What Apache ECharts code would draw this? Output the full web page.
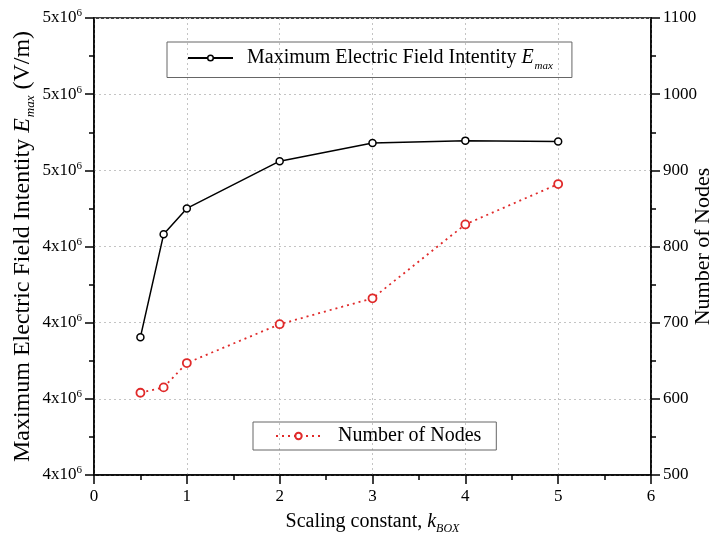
<!DOCTYPE html>
<html>
<head>
<meta charset="utf-8">
<script src="https://cdn.jsdelivr.net/npm/echarts@6/dist/echarts.min.js"></script>
<style>html,body{margin:0;padding:0;background:#fff}#c{width:714px;height:535px}</style>
</head>
<body>
<div id="c"></div>
<script>
// Data
var kBox = [0.5, 0.75, 1, 2, 3, 4, 5];
var eMax = [4.381e6, 4.516e6, 4.550e6, 4.612e6, 4.636e6, 4.639e6, 4.638e6];
var nodes = [608, 615, 647, 698, 732, 829, 882];
// Left axis tick labels (bottom to top), mantissa of "Nx10^6"
var leftTickMantissa = ['4', '4', '4', '4', '5', '5', '5'];
var xTickLabels = ['0', '1', '2', '3', '4', '5', '6'];
var rightTickLabels = ['500', '600', '700', '800', '900', '1000', '1100'];

var FONT = '"Liberation Serif", "Times New Roman", serif';
var chart = echarts.init(document.getElementById('c'), null, {renderer: 'canvas'});

var pairs = function (ys) { return kBox.map(function (x, i) { return [x, ys[i]]; }); };

var tickStyle = {show: true, inside: false, length: 9, lineStyle: {color: '#000', width: 1.5}};
var minorStyle = {show: true, splitNumber: 2, length: 5, lineStyle: {color: '#000', width: 1.5}};
var splitStyle = {show: true, lineStyle: {color: '#c4c4c4', type: [2, 3], width: 1}};

var option = {
  backgroundColor: '#fff',
  animation: false,
  textStyle: {fontFamily: FONT, color: '#000'},
  grid: {left: 94, right: 63, top: 18, bottom: 60, containLabel: false, outerBoundsMode: 'none',
         show: true, borderColor: '#000', borderWidth: 1.5, backgroundColor: 'transparent'},
  legend: [
    {
      data: [{name: 'Emax', itemStyle: {borderWidth: 1.5}}],
      left: 167, top: 42, width: 400,
      padding: [6, 19, 6, 20],
      borderColor: '#666', borderWidth: 1,
      itemWidth: 45, itemHeight: 7, itemGap: 0,
      formatter: function () { return 'Maximum Electric Field Intentity {i|E}{sub|max}'; },
      textStyle: {fontFamily: FONT, fontSize: 20, color: '#000', padding: [0, 0, 0, 9],
        rich: {i: {fontFamily: FONT, fontSize: 20, fontStyle: 'italic'},
               sub: {fontFamily: FONT, fontSize: 11, fontStyle: 'italic', padding: [16, 0, 0, 1]}}}
    },
    {
      data: [{name: 'Nodes'}],
      left: 253, top: 422,
      padding: [4, 15, 4, 22],
      borderColor: '#666', borderWidth: 1,
      itemWidth: 45, itemHeight: 8, itemGap: 0,
      formatter: function () { return 'Number of Nodes'; },
      textStyle: {fontFamily: FONT, fontSize: 20, color: '#000', padding: [0, 0, 0, 12]}
    }
  ],
  xAxis: {
    type: 'value', min: 0, max: 6, interval: 1,
    name: 'Scaling constant, {i|k}{sub|BOX}',
    nameLocation: 'middle', nameGap: 34, nameMoveOverlap: false,
    nameTextStyle: {fontFamily: FONT, fontSize: 20, color: '#000',
      rich: {i: {fontFamily: FONT, fontSize: 20, fontStyle: 'italic'},
             sub: {fontFamily: FONT, fontSize: 12, fontStyle: 'italic', padding: [14, 0, 0, 0]}}},
    axisLine: {lineStyle: {color: '#000', width: 1.5}},
    axisTick: tickStyle,
    minorTick: minorStyle,
    axisLabel: {fontFamily: FONT, fontSize: 17, color: '#000', margin: 13,
      formatter: function (v) { return xTickLabels[Math.round(v)]; }},
    splitLine: splitStyle
  },
  yAxis: [
    {
      type: 'value', min: 4.2e6, max: 4.8e6, interval: 1e5,
      name: 'Maximum Electric Field Intentity {i|E}{sub|max} (V/m)',
      nameLocation: 'middle', nameGap: 57, nameRotate: 90, nameMoveOverlap: false,
      nameTextStyle: {fontFamily: FONT, fontSize: 24, color: '#000',
        rich: {i: {fontFamily: FONT, fontSize: 24, fontStyle: 'italic'},
               sub: {fontFamily: FONT, fontSize: 13, fontStyle: 'italic', padding: [16, 0, 0, 1]}}},
      axisLine: {show: true, lineStyle: {color: '#000', width: 1.5}},
      axisTick: tickStyle,
      minorTick: minorStyle,
      axisLabel: {fontFamily: FONT, fontSize: 17, color: '#000', margin: 12,
        formatter: function (v) {
          var idx = Math.round((v - 4.2e6) / 1e5);
          return leftTickMantissa[idx] + 'x10{sup|6}';
        },
        rich: {sup: {fontFamily: FONT, fontSize: 11, padding: [0, 0, 9, 0]}}},
      splitLine: splitStyle
    },
    {
      type: 'value', min: 500, max: 1100, interval: 100, position: 'right',
      name: 'Number of Nodes',
      nameLocation: 'middle', nameGap: 41, nameRotate: 90, nameMoveOverlap: false,
      nameTextStyle: {fontFamily: FONT, fontSize: 22, color: '#000'},
      axisLine: {show: true, lineStyle: {color: '#000', width: 1.5}},
      axisTick: tickStyle,
      minorTick: minorStyle,
      axisLabel: {fontFamily: FONT, fontSize: 17, color: '#000', margin: 12,
        formatter: function (v) { return rightTickLabels[Math.round((v - 500) / 100)]; }},
      splitLine: {show: false}
    }
  ],
  series: [
    {
      name: 'Emax', type: 'line', yAxisIndex: 0,
      data: pairs(eMax),
      symbol: 'circle', symbolSize: 7,
      itemStyle: {color: '#fff', borderColor: '#000', borderWidth: 1.5},
      lineStyle: {color: '#000', width: 1.5},
      z: 3
    },
    {
      name: 'Nodes', type: 'line', yAxisIndex: 1,
      data: pairs(nodes),
      symbol: 'circle', symbolSize: 8,
      itemStyle: {color: '#fff', borderColor: '#e02a2a', borderWidth: 1.8},
      lineStyle: {color: '#e02a2a', width: 1.8, type: [2, 4]},
      z: 3
    }
  ]
};
chart.setOption(option);
</script>
</body>
</html>
